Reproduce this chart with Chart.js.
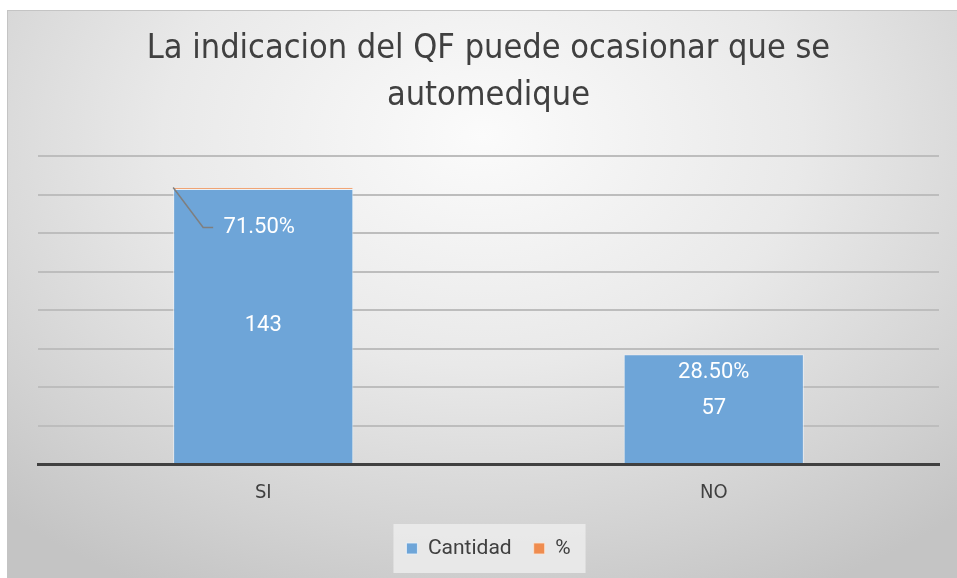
<!DOCTYPE html>
<html>
<head>
    <title>La indicacion del QF puede ocasionar que se automedique</title>
    <script src="https://cdn.jsdelivr.net/npm/chart.js"></script>
    <style>
        html, body { margin: 0; padding: 0; background: #ffffff; }
        .frame {
            position: absolute; left: 7px; top: 10px; width: 950px; height: 568px;
            border-top: 1px solid #c4c4c4; border-left: 1px solid #c4c4c4;
            box-sizing: border-box;
            background: radial-gradient(ellipse 75% 90% at 50% 22%, #fbfbfb 0%, #e9e9e9 45%, #d2d2d2 80%, #c4c4c4 100%);
        }
        canvas { display: block; }
    </style>
</head>
<body>
    <div class="frame">
        <canvas id="chart" width="949" height="567"></canvas>
    </div>

    <script>
        // Data
        const categories = ['SI', 'NO'];
        const cantidad = [143, 57];
        const porcentaje = [0.715, 0.285];
        const porcentajeLabels = ['71.50%', '28.50%'];
        const titleLines = ['La indicacion del QF puede ocasionar que se', 'automedique'];

        const narrow = "'Liberation Sans Narrow', 'DejaVu Sans Condensed', sans-serif";

        // Light box behind the legend
        const legendBox = {
            id: 'legendBox',
            beforeDraw(chart) {
                const boxes = chart.legend && chart.legend.legendHitBoxes;
                if (!boxes || !boxes.length) return;
                const first = boxes[0], last = boxes[boxes.length - 1];
                const ctx = chart.ctx;
                ctx.save();
                ctx.fillStyle = 'rgba(236,236,236,0.85)';
                ctx.fillRect(first.left - 13, first.top - 14, (last.left + last.width) - first.left + 28, first.height + 28);
                ctx.restore();
            }
        };

        // Data labels (Excel style)
        const barLabels = {
            id: 'barLabels',
            afterDatasetsDraw(chart) {
                const ctx = chart.ctx;
                const metaQty = chart.getDatasetMeta(0);
                const metaPct = chart.getDatasetMeta(1);
                ctx.save();
                ctx.fillStyle = '#ffffff';
                ctx.font = '22px Roboto';
                ctx.textAlign = 'center';
                ctx.textBaseline = 'middle';
                metaQty.data.forEach((bar, i) => {
                    ctx.fillText(String(cantidad[i]), bar.x, (bar.y + bar.base) / 2);
                });
                metaPct.data.forEach((bar, i) => {
                    const left = bar.x - bar.width / 2;
                    if (i === 0) {
                        const lx = bar.x - 4, ly = bar.y + 40;
                        ctx.strokeStyle = '#7f7f7f';
                        ctx.lineWidth = 1.5;
                        ctx.beginPath();
                        ctx.moveTo(left, bar.y);
                        ctx.lineTo(left + 30, ly);
                        ctx.lineTo(left + 40, ly);
                        ctx.stroke();
                        ctx.fillText(porcentajeLabels[i], lx, ly);
                    } else {
                        ctx.fillText(porcentajeLabels[i], bar.x, bar.y + 19);
                    }
                });
                ctx.restore();
            }
        };

        new Chart(document.getElementById('chart'), {
            type: 'bar',
            data: {
                labels: categories,
                datasets: [
                    {
                        label: 'Cantidad',
                        data: cantidad,
                        backgroundColor: '#6ea5d8',
                        borderColor: 'rgba(235,242,250,0.8)',
                        borderWidth: 1
                    },
                    {
                        label: '%',
                        data: porcentaje,
                        backgroundColor: '#ef8c4f',
                        borderColor: 'rgba(250,230,215,0.8)',
                        borderWidth: 1
                    }
                ]
            },
            options: {
                responsive: false,
                animation: false,
                layout: { padding: { left: 30, right: 18, top: 0, bottom: 9 } },
                datasets: { bar: { barPercentage: 0.4, categoryPercentage: 1 } },
                scales: {
                    x: {
                        stacked: true,
                        grid: { display: false, drawTicks: false },
                        border: { display: true, color: '#404040', width: 3 },
                        ticks: { color: '#404040', font: { family: narrow, size: 20 }, padding: 17 },
                        afterFit(scale) { scale.height = 52; }
                    },
                    y: {
                        stacked: true,
                        min: 0,
                        max: 160,
                        ticks: { display: false, stepSize: 20 },
                        grid: { color: '#bdbdbd', lineWidth: 2, drawTicks: false },
                        border: { display: false }
                    }
                },
                plugins: {
                    tooltip: { enabled: false },
                    title: {
                        display: true,
                        text: titleLines,
                        color: '#404040',
                        font: { family: narrow, size: 34, weight: 'normal', lineHeight: 1.4 },
                        padding: { top: 14, bottom: 36 }
                    },
                    legend: {
                        position: 'bottom',
                        labels: {
                            color: '#404040',
                            font: { family: 'Roboto', size: 21 },
                            boxWidth: 11,
                            boxHeight: 11,
                            padding: 22
                        }
                    }
                }
            },
            plugins: [legendBox, barLabels]
        });
    </script>
</body>
</html>
